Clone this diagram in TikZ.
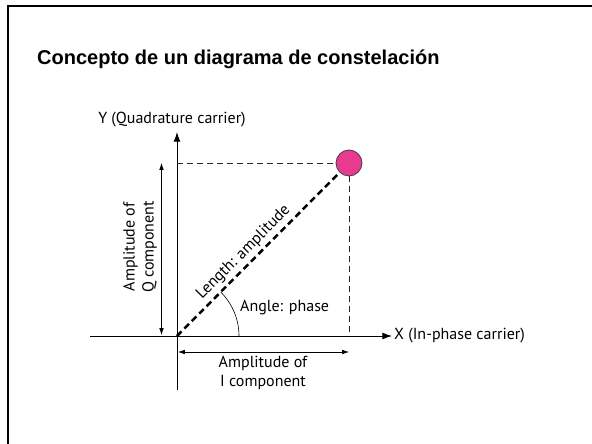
\documentclass[tikz,border=0pt]{standalone}
\usepackage{fontspec}
\setmainfont{Liberation Sans}
\newfontfamily\lblfont{PT Sans}
\usetikzlibrary{arrows.meta,positioning,calc}
\definecolor{dotpink}{RGB}{232,58,142}
\begin{document}
\begin{tikzpicture}[x=1pt,y=-1pt,
  every node/.style={font=\lblfont\fontsize{16}{19}\selectfont,inner sep=2pt},
  axis/.style={line width=0.9pt,-{Latex[length=3.4mm,width=2.4mm]}},
  guide/.style={line width=1pt,black!85,dash pattern=on 6pt off 4pt},
  vec/.style={line width=2.5pt,dash pattern=on 6.5pt off 4pt},
  amp/.style={line width=0.6pt,{Latex[length=2.4mm,width=1.6mm]}-{Latex[length=2.4mm,width=1.6mm]}},
  dot/.style={circle,draw=black!75,line width=0.8pt,fill=dotpink,minimum size=26pt,inner sep=0pt}]
\useasboundingbox (0,0) rectangle (592,444);
% slide frame
\draw[line width=2pt] (7.5,444) -- (7.5,6.5) -- (592,6.5);
\node[anchor=base west,font=\bfseries\fontsize{20}{24}\selectfont] (title) at (35,65) {Concepto de un diagrama de constelaci\'on};
% axes
\coordinate (o) at (177,336);
\coordinate (ybot) at (177,390);
\coordinate (ytop) at (177,132);
\coordinate (xl) at (90,336);
\coordinate (xr) at (392,336);
\draw[axis] (ybot) -- (ytop);
\draw[axis] (xl) -- (xr);
\node[anchor=base] (ylab) at (172,123) {Y (Quadrature carrier)};
\node[anchor=west] (xlab) at (xr) {X (In-phase carrier)};
% point and projections
\node[dot] (pt) at (349,163) {};
\coordinate (qy) at (177,163);
\coordinate (ix) at (349,336);
\draw[guide] (qy) -- (pt.west);
\draw[guide] (pt.south) -- (ix);
\draw[vec] (o) -- (pt.south west);
\path (o) -- (pt) node[pos=0.46,sloped,above=2pt] (len) {Length: amplitude};
% angle
\draw[line width=0.6pt] ($(o)+(62,0)$) arc[start angle=0,end angle=-45,radius=62];
\node[anchor=west] (ang) at (238,308) {Angle: phase};
% amplitudes
\coordinate (qa) at (161.5,163);
\coordinate (qb) at (161.5,335);
\draw[amp] (qa) -- (qb);
\node[rotate=90,align=center] (qlab) at (140,247) {Amplitude of\\Q component};
\coordinate (ia) at (178,352);
\coordinate (ib) at (349,352);
\draw[amp] (ia) -- (ib);
\node[align=center] (ilab) at (263,373) {Amplitude of\\I component};
\end{tikzpicture}
\end{document}
